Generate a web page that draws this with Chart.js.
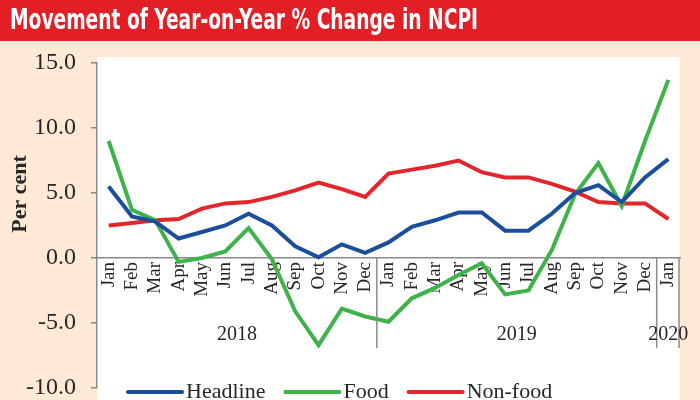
<!DOCTYPE html>
<html>
<head>
<meta charset="utf-8">
<script src="https://cdn.jsdelivr.net/npm/chart.js@4.4.1/dist/chart.umd.min.js"></script>
<style>
  html, body { margin: 0; padding: 0; background: #fde9d5; }
  #wrap { width: 700px; height: 400px; position: relative; }
</style>
</head>
<body>
<div id="wrap"><canvas id="c" width="700" height="400"></canvas></div>
<script>
const chartTitle = 'Movement of Year-on-Year % Change in NCPI';
const months = ['Jan','Feb','Mar','Apr','May','Jun','Jul','Aug','Sep','Oct','Nov','Dec',
                'Jan','Feb','Mar','Apr','May','Jun','Jul','Aug','Sep','Oct','Nov','Dec','Jan'];
const years = ['2018', '2019', '2020'];
const yearStartIndex = [0, 12, 24];
const headline = [5.5, 3.2, 2.8, 1.5, 2.0, 2.5, 3.4, 2.5, 0.9, 0.05, 1.05, 0.4,
                  1.2, 2.4, 2.9, 3.5, 3.5, 2.1, 2.1, 3.4, 5.0, 5.6, 4.3, 6.2, 7.6];
const food = [9.0, 3.7, 2.9, -0.3, 0.0, 0.5, 2.3, -0.1, -4.1, -6.7, -3.9, -4.5,
              -4.9, -3.1, -2.3, -1.3, -0.4, -2.8, -2.5, 0.6, 4.9, 7.3, 4.0, 9.0, 13.7];
const nonFood = [2.5, 2.7, 2.9, 3.0, 3.8, 4.2, 4.3, 4.7, 5.2, 5.8, 5.3, 4.7,
                 6.5, 6.8, 7.1, 7.5, 6.6, 6.2, 6.2, 5.7, 5.1, 4.3, 4.2, 4.2, 3.0];
const yAxisTitle = 'Per cent';

const SERIF = '"Liberation Serif", "DejaVu Serif", serif';
const TEXT = '#2a2526';
const AXIS = '#8a8a8a';

const decorPlugin = {
  id: 'decor',
  beforeDraw(chart) {
    const ctx = chart.ctx;
    const a = chart.chartArea;
    ctx.save();
    ctx.fillStyle = '#fde9d5';
    ctx.fillRect(0, 0, chart.width, chart.height);
    ctx.fillStyle = '#e31f26';
    ctx.fillRect(0, 0, chart.width, 41);
    ctx.fillStyle = '#ffffff';
    ctx.fillRect(a.left, 57, a.right - a.left, chart.height - 57);
    // title
    ctx.font = 'bold 29px "Liberation Sans Narrow", "DejaVu Sans Condensed", sans-serif';
    const w = ctx.measureText(chartTitle).width;
    const sx = 468 / w;
    ctx.translate(10, 29);
    ctx.scale(sx, 1);
    ctx.fillStyle = '#ffffff';
    ctx.textBaseline = 'alphabetic';
    ctx.textAlign = 'left';
    ctx.fillText(chartTitle, 0, 0);
    ctx.restore();
  },
  afterDraw(chart) {
    const ctx = chart.ctx;
    const x = chart.scales.x, y = chart.scales.y;
    const zeroY = y.getPixelForValue(0);
    ctx.save();
    // year separators
    ctx.strokeStyle = AXIS;
    ctx.lineWidth = 1.5;
    const seps = [];
    for (let i = 1; i < yearStartIndex.length; i++) {
      const k = yearStartIndex[i];
      seps.push((x.getPixelForValue(k - 1) + x.getPixelForValue(k)) / 2);
    }
    seps.push(chart.chartArea.right - 1);
    seps.forEach(px => {
      ctx.beginPath();
      ctx.moveTo(px, zeroY);
      ctx.lineTo(px, zeroY + 90);
      ctx.stroke();
    });
    // year labels
    ctx.fillStyle = TEXT;
    ctx.font = '20px ' + SERIF;
    ctx.textAlign = 'center';
    ctx.textBaseline = 'middle';
    years.forEach((yr, i) => {
      const s = yearStartIndex[i];
      const e = i + 1 < yearStartIndex.length ? yearStartIndex[i + 1] - 1 : months.length - 1;
      const cx = (x.getPixelForValue(s) + x.getPixelForValue(e)) / 2;
      ctx.fillText(yr, cx, zeroY + 77);
    });
    // y axis title
    ctx.save();
    ctx.translate(20, 194);
    ctx.rotate(-Math.PI / 2);
    ctx.font = 'bold 22px ' + SERIF;
    ctx.fillText(yAxisTitle, 0, 0);
    ctx.restore();
    // legend
    let lx = 128;
    const ly = 392;
    ctx.font = '22px ' + SERIF;
    ctx.textAlign = 'left';
    ctx.lineCap = 'round';
    chart.data.datasets.forEach(ds => {
      ctx.strokeStyle = ds.borderColor;
      ctx.lineWidth = 4;
      ctx.beginPath();
      ctx.moveTo(lx, ly);
      ctx.lineTo(lx + 54, ly);
      ctx.stroke();
      lx += 58;
      ctx.fillStyle = TEXT;
      ctx.fillText(ds.label, lx, ly);
      lx += ctx.measureText(ds.label).width + 20;
    });
    ctx.restore();
  }
};

new Chart(document.getElementById('c'), {
  type: 'line',
  data: {
    labels: months,
    datasets: [
      { label: 'Headline', data: headline, borderColor: '#1b4f9c' },
      { label: 'Food', data: food, borderColor: '#3db34a' },
      { label: 'Non-food', data: nonFood, borderColor: '#e3262b' }
    ]
  },
  options: {
    responsive: false,
    animation: false,
    devicePixelRatio: 1,
    layout: { padding: { top: 63, right: 20, bottom: 12, left: 0 } },
    elements: {
      line: { borderWidth: 4, tension: 0, borderJoinStyle: 'miter' },
      point: { radius: 0 }
    },
    plugins: {
      legend: { display: false },
      title: { display: false },
      tooltip: { enabled: false }
    },
    scales: {
      x: {
        type: 'category',
        position: { y: 0 },
        offset: true,
        afterFit(s) { s.height = 0; },
        grid: { display: false, drawTicks: false },
        border: { display: true, color: AXIS, width: 1.5 },
        ticks: {
          autoSkip: false,
          minRotation: 90,
          maxRotation: 90,
          padding: 4,
          color: TEXT,
          font: { family: SERIF, size: 19 }
        }
      },
      y: {
        min: -10,
        max: 15,
        afterFit(s) { s.width = 97; s.paddingTop = 0; s.paddingBottom = 0; },
        grid: { drawOnChartArea: false, drawTicks: true, tickLength: 6, color: AXIS, lineWidth: 1.5 },
        border: { display: true, color: AXIS, width: 1.5 },
        ticks: {
          stepSize: 5,
          padding: 15,
          color: TEXT,
          font: { family: SERIF, size: 24 },
          callback: v => Number(v).toFixed(1)
        }
      }
    }
  },
  plugins: [decorPlugin]
});
</script>
</body>
</html>
